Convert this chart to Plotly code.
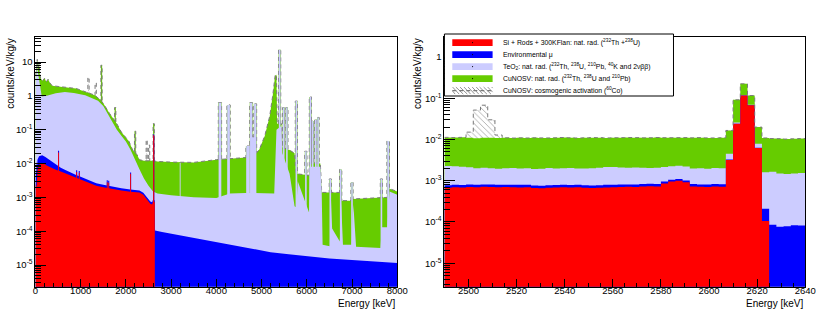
import numpy as np
import plotly.graph_objects as go

# ---------------- DATA ----------------
# Left panel (0-8000 keV): top of each stacked layer, (energy keV, counts/keV/kg/y)
left_red_top = [
    (0, 2.5e-3), (25, 2.0e-3), (45, 6.5e-3), (80, 9.0e-3), (130, 1.0e-2), (200, 9.6e-3),
    (260, 8.6e-3), (360, 7.2e-3), (450, 6.5e-3), (560, 5.8e-3), (650, 5.2e-3), (780, 4.5e-3),
    (900, 3.9e-3), (1000, 3.5e-3), (1150, 2.9e-3), (1345, 2.2e-3), (1500, 2.0e-3), (1700, 1.75e-3),
    (1900, 1.6e-3), (2100, 1.47e-3), (2300, 1.4e-3), (2385, 1.2e-3), (2470, 8.5e-4), (2540, 6.5e-4),
    (2580, 6.2e-4), (2605, 8.0e-4), (2638, 7.0e-4), (2642, 0)]
left_mu_top = [
    (0, 4.0e-3), (20, 1.2e-2), (30, 5.0e-3), (45, 1.3e-2), (80, 1.65e-2), (150, 1.75e-2),
    (220, 1.55e-2), (300, 1.3e-2), (360, 1.14e-2), (450, 9.0e-3), (560, 7.5e-3), (650, 6.6e-3),
    (780, 5.4e-3), (900, 4.6e-3), (1000, 4.1e-3), (1150, 3.4e-3), (1345, 2.6e-3), (1500, 2.35e-3),
    (1700, 2.05e-3), (1900, 1.85e-3), (2100, 1.7e-3), (2300, 1.6e-3), (2385, 1.38e-3), (2470, 1.0e-3),
    (2540, 7.5e-4), (2580, 7.2e-4), (2605, 9.0e-4), (2638, 8.0e-4), (2645, 1.05e-4), (2800, 9.5e-5),
    (3000, 8.5e-5), (3300, 7.0e-5), (3600, 6.0e-5), (4000, 4.8e-5), (4400, 3.8e-5), (4800, 3.0e-5),
    (5200, 2.4e-5), (5600, 2.1e-5), (6000, 1.8e-5), (6500, 1.55e-5), (7000, 1.4e-5), (7500, 1.25e-5),
    (8000, 1.15e-5)]
left_teo2_top = [
    (0, 2.0), (15, 6.0), (35, 9.0), (55, 5.0), (80, 3.0), (110, 1.6), (140, 0.95), (250, 1.0),
    (450, 1.2), (650, 1.3), (850, 1.22), (1100, 1.05), (1250, 0.88), (1384, 0.72), (1500, 0.5),
    (1600, 0.3), (1710, 0.155), (1800, 0.1), (1900, 0.066), (2000, 0.045), (2100, 0.026),
    (2200, 0.014), (2300, 0.0068), (2400, 0.0036), (2500, 0.0022), (2600, 0.0015), (2700, 0.0013),
    (3000, 0.00115), (3500, 0.001), (4000, 0.00095), (4300, 0.0013), (4650, 0.00135), (4950, 0.0013),
    (5280, 0.0013), (5330, 0.1), (5440, 0.13), (5460, 0.02), (5620, 0.005), (5730, 0.00055),
    (5770, 0.0005), (5800, 0.003), (6050, 0.00036), (6060, 0.008), (6300, 0.008), (6330, 0.0014),
    (6350, 4.0e-5), (6510, 3.6e-5), (6530, 0.0013), (6560, 1.2e-4), (6730, 5.0e-5), (6760, 7.0e-4),
    (6800, 4.0e-5), (6990, 4.0e-5), (7030, 6.0e-4), (7090, 3.5e-5), (7630, 3.2e-5), (7660, 1.3e-4),
    (7780, 1.3e-4), (7830, 0.0015), (8000, 0.0012)]
left_cunosv_top = [
    (0, 4.0), (20, 9.0), (40, 12.0), (60, 7.0), (80, 10.0), (100, 4.0), (120, 3.2), (160, 2.8),
    (200, 3.3), (240, 2.6), (280, 3.1), (320, 2.4), (370, 2.0), (500, 1.9), (700, 1.75), (900, 1.65),
    (1020, 1.45), (1150, 1.25), (1310, 1.05), (1440, 0.75), (1500, 0.6), (1640, 0.3), (1740, 0.2),
    (1800, 0.15), (1900, 0.085), (2000, 0.06), (2070, 0.045), (2150, 0.025), (2250, 0.018),
    (2300, 0.013), (2400, 0.012), (2600, 0.012), (2700, 0.0115), (3000, 0.011), (3500, 0.0108),
    (4000, 0.013), (4300, 0.014), (4650, 0.015), (4880, 0.02), (4950, 0.026), (5070, 0.065),
    (5180, 0.25), (5250, 1.1), (5300, 4.0), (5330, 4.2), (5345, 0.15), (5440, 0.15), (5460, 0.03),
    (5620, 0.025), (5730, 0.02), (5760, 0.005), (6050, 0.0045), (6060, 0.01), (6300, 0.01),
    (6330, 0.0014), (6740, 0.0014), (6760, 0.0008), (6990, 0.0008), (7020, 0.0009), (7640, 0.00095),
    (7780, 0.001), (7830, 0.0018), (8000, 0.0015)]
# narrow lines: (energy keV, peak level, half width keV)
left_red_peaks = [(511, 0.021, 10), (911, 5.6e-3, 10), (969, 5.3e-3, 10), (1588, 2.8e-3, 10),
                  (1620, 2.7e-3, 10), (2104, 5.0e-3, 10), (2615, 0.068, 12)]
left_mu_peaks = [(511, 0.024, 12), (911, 6.3e-3, 12), (969, 6.0e-3, 12), (1588, 3.2e-3, 12),
                 (1620, 3.1e-3, 12), (2104, 5.4e-3, 12), (2615, 0.072, 14)]
left_teo2_peaks = [
    (3200, 0.0105, 10), (4080, 0.63, 30), (4270, 0.54, 30), (4700, 0.033, 40), (4770, 0.63, 25),
    (4815, 0.06, 30), (4860, 0.58, 25), (5400, 23.0, 18), (5490, 0.45, 18), (5560, 0.45, 18),
    (5770, 0.7, 18), (5980, 0.023, 18), (6080, 0.93, 18), (6130, 0.18, 18), (6200, 0.2, 18),
    (6250, 0.23, 18), (6520, 0.0035, 18), (6750, 0.0067, 18), (7000, 0.0028, 18), (7650, 0.0035, 18),
    (7800, 0.046, 22)]
left_cunosv_peaks = [(1461, 8.0, 14), (1764, 0.45, 14), (2204, 0.09, 14), (2615, 0.15, 14)]
left_cosmo_peaks = [(1173, 3.5, 14), (1332, 2.4, 14), (2460, 0.05, 12), (2515, 0.035, 12)]

# Right panel (2490-2640 keV): 3 keV bins, per-component values
right_bin_edges = [2490, 2493, 2496, 2499, 2502, 2505, 2508, 2511, 2514, 2517, 2520, 2523, 2526,
                   2529, 2532, 2535, 2538, 2541, 2544, 2547, 2550, 2553, 2556, 2559, 2562, 2565,
                   2568, 2571, 2574, 2577, 2580, 2583, 2586, 2589, 2592, 2595, 2598, 2601, 2604,
                   2607, 2610, 2613, 2616, 2619, 2622, 2625, 2628, 2631, 2634, 2637, 2640]
right_si_rods = [
    6.8e-4, 7.0e-4, 6.9e-4, 7.1e-4, 7.0e-4, 7.2e-4, 7.1e-4, 7.0e-4, 7.1e-4, 7.0e-4,
    6.9e-4, 7.0e-4, 6.7e-4, 6.6e-4, 6.8e-4, 6.9e-4, 7.0e-4, 6.9e-4, 7.0e-4, 6.8e-4,
    6.7e-4, 6.8e-4, 6.9e-4, 7.0e-4, 7.1e-4, 7.2e-4, 7.1e-4, 7.3e-4, 7.4e-4, 7.3e-4,
    8.6e-4, 9.6e-4, 1.0e-3, 9.2e-4, 7.3e-4, 7.2e-4, 7.1e-4, 7.3e-4, 7.2e-4, 3.2e-3,
    2.4e-2, 1.17e-1, 6.8e-2, 6.2e-3, 1.05e-4, 0, 0, 0, 0, 0]
right_env_mu = [
    1.0e-4, 9.5e-5, 1.0e-4, 1.05e-4, 1.0e-4, 9.5e-5, 1.0e-4, 1.0e-4, 9.5e-5, 1.0e-4,
    1.05e-4, 1.0e-4, 1.0e-4, 9.5e-5, 1.0e-4, 1.0e-4, 1.05e-4, 1.0e-4, 9.5e-5, 1.0e-4,
    1.0e-4, 1.0e-4, 1.05e-4, 1.0e-4, 1.0e-4, 9.5e-5, 1.0e-4, 1.0e-4, 1.05e-4, 1.0e-4,
    1.0e-4, 1.0e-4, 1.0e-4, 1.0e-4, 1.0e-4, 9.5e-5, 1.0e-4, 1.0e-4, 1.0e-4, 1.0e-4,
    1.0e-4, 1.0e-4, 1.0e-4, 1.0e-4, 1.05e-4, 8.6e-5, 7.7e-5, 7.9e-5, 8.3e-5, 8.2e-5]
right_teo2 = [
    1.5e-3, 1.45e-3, 1.4e-3, 1.3e-3, 1.2e-3, 1.25e-3, 1.2e-3, 1.15e-3, 1.2e-3, 1.25e-3,
    1.2e-3, 1.2e-3, 1.15e-3, 1.2e-3, 1.25e-3, 1.2e-3, 1.2e-3, 1.25e-3, 1.2e-3, 1.2e-3,
    1.25e-3, 1.3e-3, 1.35e-3, 1.35e-3, 1.3e-3, 1.25e-3, 1.3e-3, 1.25e-3, 1.2e-3, 1.25e-3,
    1.2e-3, 1.2e-3, 1.2e-3, 1.2e-3, 1.15e-3, 1.2e-3, 1.15e-3, 1.2e-3, 1.2e-3, 1.2e-3,
    1.9e-3, 1.5e-3, 1.5e-3, 1.6e-3, 1.4e-3, 1.57e-3, 1.42e-3, 1.37e-3, 1.42e-3, 1.47e-3]
right_cunosv = [
    9.0e-3, 8.9e-3, 9.1e-3, 9.0e-3, 8.8e-3, 9.0e-3, 9.1e-3, 8.9e-3, 9.0e-3, 8.8e-3,
    9.0e-3, 8.9e-3, 9.1e-3, 9.0e-3, 8.9e-3, 9.0e-3, 9.2e-3, 9.0e-3, 8.9e-3, 9.0e-3,
    9.1e-3, 9.0e-3, 8.8e-3, 8.9e-3, 9.0e-3, 9.1e-3, 9.0e-3, 8.9e-3, 9.0e-3, 9.1e-3,
    8.9e-3, 8.8e-3, 8.8e-3, 8.9e-3, 9.0e-3, 9.1e-3, 9.0e-3, 8.9e-3, 9.0e-3, 1.21e-2,
    6.6e-2, 1.06e-1, 4.7e-2, 1.21e-2, 9.3e-3, 8.9e-3, 9.0e-3, 8.8e-3, 8.9e-3, 9.0e-3]
right_cosmo = [
    0, 0, 0, 4.0e-3, 4.1e-2, 5.7e-2, 1.9e-2, 2.0e-3, 0, 0,
    0, 0, 0, 0, 0, 0, 0, 0, 0, 0,
    0, 0, 0, 0, 0, 0, 0, 0, 0, 0,
    0, 0, 0, 0, 0, 0, 0, 0, 0, 0,
    0, 0, 0, 0, 0, 0, 0, 0, 0, 0]

legend_labels = [
    "Si + Rods + 300KFlan: nat. rad. (<sup>232</sup>Th +<sup>238</sup>U)",
    "Environmental \u03bc",
    "TeO<sub>2</sub>: nat. rad. (<sup>232</sup>Th, <sup>238</sup>U, <sup>210</sup>Pb, <sup>40</sup>K and 2\u03bd\u03b2\u03b2)",
    "CuNOSV: nat. rad. (<sup>232</sup>Th, <sup>238</sup>U and <sup>210</sup>Pb)",
    "CuNOSV: cosmogenic activation (<sup>60</sup>Co)",
]

# ---------------- STYLE ----------------
W, H = 830, 324
RED, BLUE, LAV, GREEN, DASHC = "#FF0000", "#0000FF", "#CCCCFF", "#66CC00", "#7a7a7a"
FONT = "Liberation Sans, Arial, Helvetica, sans-serif"
FLOOR = 1e-12
DASH = "4px,3px"
HATCH = dict(shape="\\", size=4, solidity=0.22, fgcolor="#555555", bgcolor="white")


def P(px):
    return px / W


def Q(py):
    return 1 - py / H


def unzip(pairs):
    xs = [p[0] for p in pairs]
    ys = [p[1] if p[1] > 0 else FLOOR for p in pairs]
    return xs, ys


def columns(peaks, pad=0.0):
    xs, ys = [], []
    for e, h, hw in peaks:
        xs += [e - hw - pad, e - hw - pad, e + hw + pad, e + hw + pad, None]
        ys += [FLOOR, h, h, FLOOR, None]
    return xs, ys


fig = go.Figure()


def add(x, y, fill, fillcolor=None, line=None, xa="x", ya="y", shape="linear", pattern=None):
    kw = dict(x=x, y=y, mode="lines", fill=fill, xaxis=xa, yaxis=ya, showlegend=False,
              hoverinfo="skip", line_shape=shape)
    if fillcolor:
        kw["fillcolor"] = fillcolor
    kw["line"] = line if line else dict(width=0)
    if pattern:
        kw["fillpattern"] = pattern
    fig.add_trace(go.Scatter(**kw))


dashline = dict(color=DASHC, width=1, dash=DASH)

# ----- left panel
x, y = columns(left_cosmo_peaks)
add(x, y, "toself", "white", dashline, pattern=HATCH)
x, y = columns(left_cunosv_peaks)
add(x, y, "toself", GREEN, dashline)
x, y = columns(left_teo2_peaks, pad=6)
add(x, y, "toself", GREEN, dashline)
x, y = unzip(left_cunosv_top)
add(x, y, "tozeroy", GREEN, dashline)
x, y = columns(left_teo2_peaks)
add(x, y, "toself", LAV)
x, y = unzip(left_teo2_top)
add(x, y, "tozeroy", LAV)
x, y = unzip(left_mu_top)
add(x, y, "tozeroy", BLUE)
x, y = columns(left_mu_peaks)
add(x, y, "toself", BLUE)
x, y = unzip(left_red_top)
add(x, y, "tozeroy", RED)
x, y = columns(left_red_peaks)
add(x, y, "toself", RED)

# ----- right panel (stack built from components)
comps = [np.array(right_si_rods), np.array(right_env_mu), np.array(right_teo2),
         np.array(right_cunosv), np.array(right_cosmo)]
cum = np.cumsum(np.vstack(comps), axis=0)
edges = list(right_bin_edges)


def steps(vals):
    v = [float(a) if a > 0 else FLOOR for a in vals]
    return edges, v + [v[-1]]


x, y = steps(cum[4])
add(x, y, "tozeroy", "white", None, "x2", "y2", "hv", pattern=HATCH)
for lvl, col in [(3, GREEN), (2, LAV), (1, BLUE)]:
    x, y = steps(cum[lvl])
    add(x, y, "tozeroy", col, None, "x2", "y2", "hv")
x, y = steps(np.where(np.array(right_si_rods) > 0, cum[0], 0))
add(x, y, "tozeroy", RED, None, "x2", "y2", "hv")
x, y = steps(cum[4])
add(x, y, "none", None, dashline, "x2", "y2", "hv")

# ---------------- AXES ----------------
ydom = [Q(286.7), Q(37.3)]
tickfont = dict(family=FONT, size=9.5, color="black")
minor_y = [k * 10.0 ** n for n in range(-7, 2) for k in range(2, 10)]


def xaxis_style(dom, rng, dtick, mdtick, anchor):
    return dict(domain=dom, range=rng, anchor=anchor, showline=True, mirror=True,
                linecolor="black", linewidth=1, ticks="inside", ticklen=7.5, tickcolor="black",
                dtick=dtick, tick0=0, tickfont=tickfont, showgrid=False, zeroline=False,
                ticklabelstandoff=-5,
                minor=dict(dtick=mdtick, ticks="inside", ticklen=3.8, tickcolor="black", showgrid=False))


def yaxis_style(rng, vals, anchor):
    text = []
    for v in vals:
        e = int(round(np.log10(v)))
        text.append("1" if e == 0 else ("10" if e == 1 else "10<sup>%d</sup>" % e))
    return dict(domain=ydom, type="log", range=rng, anchor=anchor, showline=True, mirror=True,
                linecolor="black", linewidth=1, ticks="inside", ticklen=11, tickcolor="black",
                tickmode="array", tickvals=vals, ticktext=text, tickfont=tickfont,
                showgrid=False, zeroline=False,
                minor=dict(tickvals=minor_y, ticks="inside", ticklen=5.5, tickcolor="black", showgrid=False))


fig.update_layout(
    width=W, height=H, autosize=False, margin=dict(l=0, r=0, t=0, b=0),
    paper_bgcolor="white", plot_bgcolor="white", showlegend=False,
    xaxis=xaxis_style([P(33), P(401)], [0, 8000], 1000, 200, "y"),
    yaxis=yaxis_style([-5.64, 1.73], [10, 1, 0.1, 0.01, 1e-3, 1e-4, 1e-5], "x"),
    xaxis2=xaxis_style([P(449), P(816)], [2490, 2640], 20, 5, "y2"),
    yaxis2=yaxis_style([-5.57, 0.48], [1, 0.1, 0.01, 1e-3, 1e-4, 1e-5], "x2"),
)

# axis titles
ann = []
for xp in (7.5, 421.5):
    ann.append(dict(text="counts/keV/kg/y", textangle=-90, x=P(xp), y=Q(36), xref="paper", yref="paper",
                    xanchor="center", yanchor="top", showarrow=False,
                    font=dict(family=FONT, size=10, color="black")))
for xp in (401, 816):
    ann.append(dict(text="Energy [keV]", x=P(xp), y=Q(303), xref="paper", yref="paper",
                    xanchor="right", yanchor="middle", showarrow=False,
                    font=dict(family=FONT, size=10, color="black")))

# legend (drawn as shapes + text in the right panel)
shapes = [dict(type="rect", xref="paper", yref="paper", x0=P(449), x1=P(682), y0=Q(96), y1=Q(34),
               line=dict(color="black", width=1), fillcolor="white", layer="above")]
swatch_cols = [RED, BLUE, LAV, GREEN, None]
for i, (lab, col) in enumerate(zip(legend_labels, swatch_cols)):
    yc = 42.6 + 12.0 * i
    if col:
        shapes.append(dict(type="rect", xref="paper", yref="paper", x0=P(457), x1=P(498),
                           y0=Q(yc + 3.3), y1=Q(yc - 3.3), line=dict(width=0), fillcolor=col, layer="above"))
        shapes.append(dict(type="circle", xref="paper", yref="paper", x0=P(477), x1=P(478.2),
                           y0=Q(yc + 0.6), y1=Q(yc - 0.6), line=dict(width=0), fillcolor="black", layer="above"))
    else:
        path = ""
        for k in range(-8, 42, 4):
            xa_, xb_ = 457 + k, 457 + k + 7
            ya_, yb_ = yc - 3.5, yc + 3.5
            if xa_ < 457:
                ya_ += (457 - xa_)
                xa_ = 457
            if xb_ > 498:
                yb_ -= (xb_ - 498)
                xb_ = 498
            if xb_ <= xa_:
                continue
            path += "M%.3f,%.4f L%.3f,%.4f " % (P(xa_), Q(ya_), P(xb_), Q(yb_))
        shapes.append(dict(type="path", xref="paper", yref="paper", path=path,
                           line=dict(color="#777777", width=0.8), layer="above"))
        shapes.append(dict(type="line", xref="paper", yref="paper", x0=P(457), x1=P(498),
                           y0=Q(yc), y1=Q(yc), line=dict(color=DASHC, width=1.2, dash="4px,3px"), layer="above"))
    ann.append(dict(text=lab, x=P(506.5), y=Q(yc), xref="paper", yref="paper", xanchor="left",
                    yanchor="middle", showarrow=False, font=dict(family=FONT, size=6.85, color="black")))

fig.update_layout(annotations=ann, shapes=shapes)

fig.write_html("out.html", config={"displayModeBar": False},
               post_script="document.body.style.margin='0';")
